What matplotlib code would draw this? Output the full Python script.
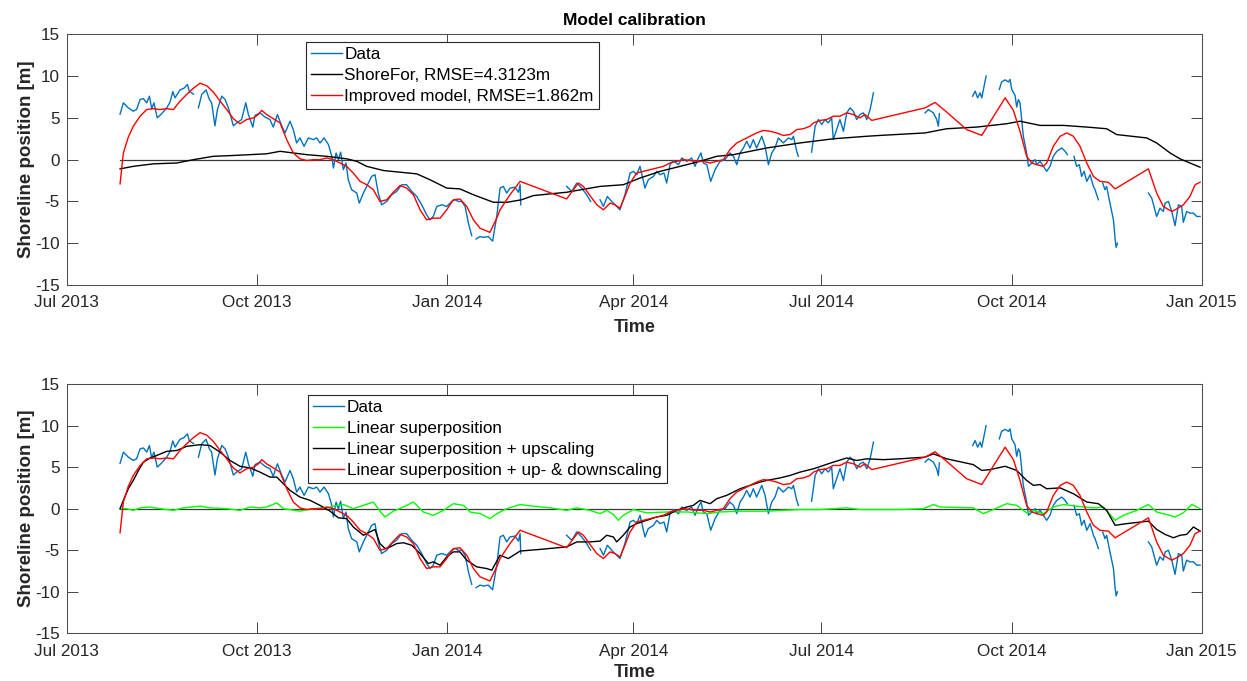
import numpy as np
import matplotlib
matplotlib.use("Agg")
import matplotlib.pyplot as plt
import matplotlib.dates as mdates

plt.rcParams["font.family"] = ["Liberation Sans", "DejaVu Sans"]
plt.rcParams["axes.unicode_minus"] = False

# Time axis: days since 1 July 2013
START = np.datetime64("2013-07-01T00:00")
X_START = "2013-07-01"
X_END = "2015-01-01"
X_TICKS = ["2013-07-01", "2013-10-01", "2014-01-01", "2014-04-01",
           "2014-07-01", "2014-10-01", "2015-01-01"]
Y_TICKS = [-15, -10, -5, 0, 5, 10, 15]

# Observed shoreline position (NaN marks survey gaps)
data_day = [25.8, 27.4, 29.8, 32.2, 33.8, 35.5, 37.1, 38.7, 40.0, 41.1, 42.2, 43.8,
            45.9, 48.4, 50.0, 51.3, 52.4, 54.8, 56.7, 58.4, 59.3, 61.3, 62.5,
            63.7, 65.3, 67.4, 69.0, 70.1, 71.7, 72.9, 75.0, 76.6, 78.2, 80.6, 82.2,
            84.6, 86.6, 87.9, 90.0, 91.1, 93.5, 95.9, 98.3, 99.9, 101.9, 104.0, 105.6,
            108.0, 109.6, 111.2, 112.8, 114.8, 116.9, 119.3, 120.9, 122.5, 124.5, 126.6,
            128.2, 129.0, 130.3, 131.4, 132.5, 133.8, 135.1, 136.2, 137.8, 140.3, 141.5,
            143.5, 145.1, 147.5, 149.1, 150.7, 152.3, 154.8, 157.2, 159.6, 162.0, 164.4,
            166.9, 169.3, 171.7, 174.1, 175.7, 177.3, 179.0, 181.4, 183.8, 186.2, 187.8,
            189.4, 191.1, 192.7, 194.3, 195.9, 197.0,
            198.0, 199.9, 201.5, 203.9, 206.0, 208.0, 209.6, 211.2, 212.8, 214.4, 216.8,
            218.5, 219.3, 219.6, 230.0,
            241.8, 244.3, 246.7, 249.1, 251.5, 253.4, 255.5,
            258.0, 259.6, 261.5, 263.6, 265.2, 267.6, 270.0, 272.5, 274.1, 275.7, 277.3,
            279.7, 281.3, 283.8, 285.4, 287.0, 288.9, 290.2, 291.8, 293.4, 295.9, 297.5,
            299.9, 302.3, 303.9, 305.5, 306.8, 307.9, 309.6, 311.5, 313.6, 316.0, 318.4,
            320.8, 322.5, 324.1, 325.7, 327.3, 328.9, 330.5, 332.1, 333.7, 336.2, 337.8,
            339.4, 341.0, 342.6, 344.2, 346.6, 349.1, 350.7, 351.5, 353.1, 353.9, 357.0,
            360.3, 362.0, 363.6, 365.2, 366.8, 368.4, 370.0, 370.8, 372.4, 374.0, 375.7,
            377.3, 378.9, 380.5, 382.1, 383.7, 385.3, 387.0, 388.6, 390.2, 402.0,
            415.2, 416.8, 419.2, 420.8, 421.6, 422.1, 430.0,
            438.2, 439.4, 440.6, 441.8, 442.6, 444.7, 448.0,
            451.1, 452.2, 453.9, 455.5, 456.3, 457.1, 458.7, 459.5, 460.3, 461.1, 461.9,
            462.7, 464.3, 465.2, 466.8, 468.4, 469.2, 470.8, 472.4, 474.0, 475.6, 477.2,
            478.9, 481.3, 482.9, 484.0, 485.5,
            487.2, 488.5, 489.8, 490.9, 492.1, 493.4, 495.0, 496.6, 497.4, 499.0, 500.0,
            501.1, 502.2, 503.0, 504.6, 506.3, 507.1, 507.6, 508.2, 515.0,
            523.2, 524.8, 527.2, 528.8, 530.4, 531.3, 532.9, 534.5, 536.1, 537.7, 539.3,
            540.1, 541.7, 543.3, 545.0, 546.6, 548.2]
data_val = [5.45, 6.8, 6.2, 5.8, 6.0, 7.2, 7.3, 6.8, 7.6, 6.1, 6.8, 5.0,
            5.5, 6.2, 6.9, 8.15, 7.4, 8.35, 8.55, 9.0, 8.15, 7.85, np.nan,
            6.2, 7.8, 8.35, 7.2, 6.8, 4.05, 6.0, 7.6, 7.2, 6.2, 4.05, 4.4,
            4.8, 6.8, 5.4, 3.9, 5.3, 5.6, 5.1, 4.8, 3.9, 5.4, 4.05, 3.2,
            4.6, 3.6, 2.0, 2.6, 1.6, 2.6, 2.4, 2.6, 2.0, 2.6, 1.8,
            0.4, -1.0, 0.8, 0.0, 0.9, -1.2, -0.4, -2.4, -3.6, -4.0, -5.2,
            -4.0, -3.2, -2.0, -1.8, -4.0, -5.4, -5.0, -4.2, -3.8, -3.0, -3.0,
            -3.8, -4.4, -5.4, -6.6, -7.2, -6.8, -5.6, -5.4, -5.6, -5.0, -4.8,
            -5.0, -5.0, -5.6, -7.6, -9.1, np.nan,
            -9.5, -9.2, -9.3, -9.2, -9.75, -6.8, -3.4, -3.2, -4.0, -3.4, -3.3,
            -3.9, -3.0, -5.4, np.nan,
            -3.2, -3.8, -2.8, -3.4, -4.2, -5.0, np.nan,
            -4.8, -5.6, -4.4, -5.0, -5.4, -6.0, -4.2, -1.6, -1.4, -1.8, -0.8,
            -3.4, -2.4, -2.0, -1.4, -1.8, -1.6, -2.8, -0.6, -0.1, -0.6, 0.2,
            -0.2, 0.2, -0.8, 0.2, 0.8, -0.4, -0.6, -2.6, -1.2, -0.2, 0.0,
            0.8, 0.4, -0.6, 0.8, 1.4, 2.2, 1.4, 2.4, 1.4, 2.8, 1.6,
            -0.6, 0.8, 1.4, 2.6, 2.0, 2.6, 2.4, 2.8, 1.0, 0.4, np.nan,
            0.9, 4.0, 4.8, 4.2, 4.8, 4.4, 5.0, 2.4, 3.6, 4.8, 3.4,
            5.6, 6.2, 5.8, 4.8, 5.4, 5.6, 4.8, 6.0, 8.0, np.nan,
            5.6, 6.0, 5.6, 4.8, 4.0, 5.5, np.nan,
            7.6, 8.2, 7.4, 8.0, 7.4, 10.0, np.nan,
            8.4, 9.3, 9.55, 9.3, 9.6, 8.4, 7.7, 6.3, 7.2, 6.8, 4.8,
            2.8, 0.8, -0.8, -0.4, 0.0, -0.6, -0.2, -0.8, -1.4, -0.8, 0.4,
            1.0, 1.4, 1.0, 0.6, np.nan,
            0.4, -0.8, -0.6, -2.0, -1.4, -2.6, -1.8, -3.2, -3.6, -4.8, np.nan,
            -2.8, -3.6, -3.2, -5.2, -7.2, -9.5, -10.5, -10.0, np.nan,
            -4.0, -4.6, -6.8, -5.8, -6.2, -5.2, -5.0, -6.2, -7.9, -5.4, -5.6,
            -7.5, -6.2, -6.4, -6.4, -6.8, -6.8]

# ShoreFor model
shorefor_day = [25.8, 32.2, 41.9, 53.2, 61.3, 70.9, 80.6, 88.7, 96.7, 103.2, 109.6,
                116.1, 125.7, 135.4, 140.3, 145.1, 153.2, 161.2, 169.3, 175.7, 183.8,
                190.2, 196.7, 206.4, 213.0, 220.0, 225.7, 241.8, 258.0, 269.2, 277.3,
                287.0, 296.7, 306.3, 314.4, 322.5, 338.6, 354.7, 370.8, 387.0, 393.4,
                415.2, 425.6, 440.2, 454.7, 461.1, 470.8, 482.1, 493.4, 503.0, 507.9,
                522.4, 527.2, 533.7, 538.5, 543.3, 548.2]
shorefor_val = [-1.1, -0.8, -0.5, -0.4, 0.0, 0.4, 0.5, 0.6, 0.7, 1.0, 0.8,
                0.6, 0.4, 0.1, -0.2, -0.8, -1.3, -1.5, -1.7, -2.4, -3.4,
                -3.5, -4.2, -5.1, -5.1, -4.8, -4.3, -3.9, -3.2, -3.0, -2.2,
                -1.4, -0.8, -0.2, 0.4, 0.6, 1.4, 2.0, 2.5, 2.8, 2.9,
                3.2, 3.7, 3.9, 4.3, 4.6, 4.1, 4.1, 3.9, 3.7, 3.0,
                2.6, 2.0, 0.8, 0.1, -0.4, -0.9]

# Improved model (linear superposition + up- & downscaling)
improved_day = [25.8, 27.4, 29.8, 32.2, 35.5, 38.7, 41.9, 45.1, 48.4, 51.6, 54.8,
                58.0, 61.3, 64.5, 67.7, 70.9, 74.2, 77.4, 80.6, 83.8, 87.0, 90.3,
                92.7, 94.3, 96.7, 100.0, 103.2, 106.4, 109.6, 112.8, 116.1, 119.3,
                122.5, 125.7, 129.0, 132.2, 135.4, 138.6, 141.9, 145.1, 148.3, 151.5,
                154.8, 158.0, 161.2, 164.4, 167.7, 170.9, 174.1, 177.3, 180.6, 183.8,
                187.0, 190.2, 193.5, 196.7, 199.9, 204.7, 208.0, 209.6, 214.4, 219.3,
                241.8, 245.1, 247.5, 249.9, 253.1, 256.4, 259.6, 262.8, 265.2, 267.6,
                270.0, 272.5, 275.7, 278.9, 282.1, 285.4, 288.6, 291.8, 295.0, 298.3,
                301.5, 304.7, 307.9, 311.2, 314.4, 317.6, 320.8, 324.1, 327.3, 330.5,
                333.7, 337.0, 340.2, 343.4, 346.6, 349.9, 353.1, 356.3, 359.5, 361.2,
                364.4, 367.6, 370.8, 374.0, 377.3, 380.5, 383.7, 386.1, 389.4,
                415.2, 420.0, 425.6, 435.3, 438.5, 442.6, 453.9, 457.9, 461.1, 464.3,
                466.8, 469.2, 472.4, 474.0, 477.2, 480.5, 483.7, 486.9, 490.1, 493.4,
                496.6, 499.8, 503.8, 507.1, 523.2, 527.2, 530.4, 534.5, 536.9, 540.1,
                543.3, 545.8, 548.2]
improved_val = [-2.9, 0.8, 2.7, 4.0, 5.2, 6.0, 6.1, 6.0, 6.1, 6.0, 7.0,
                7.8, 8.55, 9.15, 8.85, 8.1, 7.0, 6.0, 4.9, 4.3, 4.8, 5.0,
                5.4, 5.9, 5.4, 4.9, 4.4, 2.4, 0.8, 0.1, -0.1, 0.0,
                0.0, 0.2, 0.0, -0.4, -0.8, -1.6, -2.6, -3.0, -3.6, -5.0,
                -4.8, -3.9, -3.1, -3.4, -4.2, -6.0, -7.2, -7.0, -7.0, -6.0,
                -4.8, -4.7, -5.6, -7.2, -8.2, -8.7, -7.0, -6.0, -4.2, -2.6,
                -4.7, -3.6, -2.8, -3.2, -4.3, -5.4, -6.0, -5.2, -5.4, -5.8,
                -4.4, -2.8, -1.6, -1.4, -1.2, -1.0, -0.8, -0.4, -0.2, 0.0,
                -0.1, -0.2, -0.2, -0.4, -0.2, 0.0, 1.2, 2.0, 2.4, 2.8,
                3.2, 3.5, 3.4, 3.2, 2.9, 3.0, 3.6, 3.7, 4.0, 4.4,
                4.7, 4.8, 5.2, 5.2, 5.6, 5.4, 5.0, 5.4, 4.7,
                6.2, 6.85, 5.7, 3.6, 3.3, 2.9, 7.4, 5.9, 3.4, 0.4,
                -0.4, -0.6, -0.8, -0.4, 1.6, 2.8, 3.2, 2.8, 1.6, -0.4,
                -2.0, -2.6, -2.7, -3.5, -1.1, -4.0, -5.6, -6.2, -5.9, -5.4,
                -4.4, -3.0, -2.7]

# Linear superposition
linear_day = [25.8, 29.0, 32.2, 35.5, 40.3, 45.1, 51.6, 56.4, 64.5, 69.3, 77.4,
              83.8, 88.7, 93.5, 96.7, 101.6, 104.8, 112.8, 119.3, 125.7, 129.0,
              133.8, 138.6, 143.5, 148.3, 151.5, 154.0, 158.0, 162.8, 167.7, 172.5,
              177.3, 182.2, 187.0, 191.9, 195.1, 199.9, 204.7, 208.0, 212.8, 219.3,
              225.7, 233.8, 241.8, 246.7, 253.1, 258.0, 261.2, 264.4, 266.8, 269.2,
              274.1, 280.5, 290.2, 299.9, 309.6, 316.0, 325.7, 338.6, 354.7, 364.4,
              377.3, 383.7, 403.1, 414.4, 419.2, 422.4, 438.5, 443.4, 448.2, 454.7,
              459.5, 464.3, 467.6, 472.4, 477.2, 482.1, 488.5, 496.6, 501.4, 507.1,
              511.1, 517.5, 523.2, 527.2, 532.1, 536.1, 540.1, 544.2, 548.2]
linear_val = [0.0, 0.0, -0.2, 0.1, 0.2, 0.0, -0.2, 0.1, 0.3, 0.1, 0.0,
              -0.2, 0.2, 0.1, 0.2, 0.7, 0.0, -0.3, 0.0, 0.1, 0.3,
              0.5, 0.0, 0.4, 0.8, -0.3, -1.0, -0.3, 0.2, 0.8, -0.4,
              -0.8, -0.2, 0.6, 0.4, -0.4, -0.6, -1.2, -0.6, 0.0, 0.5,
              0.3, 0.1, -0.2, 0.1, -0.2, -0.6, -0.2, -0.7, -1.4, -0.8,
              -0.1, -0.5, -0.4, -0.4, -0.6, -0.4, -0.3, -0.3, -0.1, -0.1,
              0.1, -0.1, -0.1, 0.0, 0.5, 0.2, 0.1, -0.6, -0.1, 0.6,
              0.4, -0.5, -0.2, -0.6, 0.2, 0.5, 0.3, 0.1, 0.2, -1.4,
              -0.8, -0.2, 0.5, -0.4, -0.7, -1.0, -0.5, 0.5, 0.0]

# Linear superposition + upscaling
upscaled_day = [25.8, 27.4, 29.8, 32.2, 34.7, 37.1, 40.3, 43.5, 48.4, 53.2, 58.0,
                64.5, 69.3, 74.2, 79.0, 83.8, 88.7, 93.5, 98.3, 101.6, 104.8, 108.0,
                112.8, 117.7, 122.5, 127.4, 131.4, 135.4, 138.6, 143.5, 146.7, 149.1,
                151.5, 154.0, 156.4, 159.6, 162.8, 166.9, 170.9, 174.9, 177.3, 180.6,
                183.8, 187.0, 190.2, 193.5, 198.3, 203.1, 205.6, 209.6, 213.6, 219.3,
                228.9, 241.8, 246.7, 253.1, 258.0, 261.2, 264.4, 266.0, 269.2, 272.5,
                275.7, 280.5, 285.4, 290.2, 295.0, 299.9, 303.1, 306.3, 311.2, 314.4,
                319.2, 322.5, 325.7, 330.5, 335.4, 338.6, 345.0, 349.9, 354.7, 361.2,
                366.0, 370.8, 377.3, 382.1, 387.0, 395.0, 403.1, 415.2, 419.2, 425.6,
                438.5, 442.6, 446.6, 453.9, 459.5, 464.3, 467.6, 470.8, 474.0, 480.5,
                486.9, 493.4, 499.0, 503.0, 507.1, 512.7, 523.2, 527.2, 531.3, 535.3,
                538.5, 541.7, 545.0, 548.2]
upscaled_val = [0.0, 1.0, 2.4, 3.4, 4.6, 5.6, 6.1, 6.4, 6.9, 7.0, 7.5,
                7.7, 7.6, 6.8, 5.8, 5.1, 4.9, 4.4, 3.8, 3.8, 3.0, 2.2,
                1.4, 1.0, 0.4, -0.3, -1.1, -1.2, -2.2, -3.2, -2.8, -2.5,
                -4.2, -4.8, -4.6, -4.2, -4.1, -4.4, -5.4, -6.6, -6.4, -6.8,
                -5.8, -5.2, -5.2, -6.2, -7.0, -7.2, -7.4, -5.6, -6.0, -5.1,
                -4.9, -4.6, -4.0, -4.0, -3.9, -3.2, -3.4, -4.0, -3.2, -2.2,
                -1.8, -1.4, -1.0, -0.8, -0.2, 0.2, 0.4, 1.0, 0.6, 1.2,
                1.6, 2.0, 2.4, 2.8, 3.2, 3.4, 3.7, 4.0, 4.4, 4.8,
                5.2, 5.6, 6.1, 5.8, 6.0, 5.9, 6.0, 6.2, 6.6, 6.0,
                5.3, 4.6, 4.7, 5.1, 4.6, 3.4, 2.8, 2.9, 2.4, 2.5,
                1.8, 0.8, 0.6, -0.2, -2.0, -1.8, -1.5, -2.5, -3.1, -3.5,
                -3.2, -3.1, -2.2, -2.7]

BLUE = "#0072BD"
AX_GREY = "#262626"


def to_dates(days):
    d = np.asarray(days, dtype=float)
    return START + np.round(d * 24 * 60).astype("timedelta64[m]")


def style_axes(ax, xlabel_pad):
    ax.set_xlim(np.datetime64(X_START), np.datetime64(X_END))
    ax.set_ylim(-15, 15)
    ax.set_yticks(Y_TICKS)
    ax.set_xticks([np.datetime64(t) for t in X_TICKS])
    ax.xaxis.set_major_formatter(mdates.DateFormatter("%b %Y"))
    ax.tick_params(direction="in", length=7.9, width=0.6, colors=AX_GREY,
                   labelsize=12.3, top=True, right=True)
    ax.tick_params(axis="x", pad=7.5)
    ax.tick_params(axis="y", pad=5)
    for sp in ax.spines.values():
        sp.set_color("#4d4d4d")
        sp.set_linewidth(0.75)
    ax.set_xlabel("Time", fontsize=13, fontweight="bold", color=AX_GREY,
                  labelpad=xlabel_pad)
    ax.set_ylabel("Shoreline position [m]", fontsize=13.5, fontweight="bold",
                  color=AX_GREY, labelpad=0)


def zero_line(ax):
    t = to_dates([data_day[0], data_day[-1]])
    ax.plot(t, [0, 0], color="#3a3a3a", lw=0.9, zorder=1)


fig = plt.figure(figsize=(12.47, 6.81), dpi=100)
ax1 = fig.add_axes([0.0535, 0.5815, 0.9102, 0.3681])
ax2 = fig.add_axes([0.0535, 0.0700, 0.9102, 0.3661])

t_data = to_dates(data_day)

# Calibration comparison
zero_line(ax1)
h1, = ax1.plot(t_data, data_val, color=BLUE, lw=1.0, label="Data")
h2, = ax1.plot(to_dates(shorefor_day), shorefor_val, color="k", lw=1.0,
               label="ShoreFor, RMSE=4.3123m")
h3, = ax1.plot(to_dates(improved_day), improved_val, color="r", lw=1.0,
               label="Improved model, RMSE=1.862m")
style_axes(ax1, 6)
ax1.set_title("Model calibration", fontsize=12.5, fontweight="bold", pad=6.5)

# Model variants
zero_line(ax2)
g1, = ax2.plot(t_data, data_val, color=BLUE, lw=1.0, label="Data")
g2, = ax2.plot(to_dates(linear_day), linear_val, color="#00ff00", lw=1.0,
               label="Linear superposition")
g3, = ax2.plot(to_dates(upscaled_day), upscaled_val, color="k", lw=1.0,
               label="Linear superposition + upscaling")
g4, = ax2.plot(to_dates(improved_day), improved_val, color="r", lw=1.0,
               label="Linear superposition + up- & downscaling")
style_axes(ax2, 3.5)

legend_kw = dict(loc="upper left", fontsize=12.3, frameon=True, fancybox=False,
                 edgecolor="#262626", framealpha=1, borderaxespad=0,
                 handlelength=1.8, handletextpad=0.15, labelspacing=0.34,
                 borderpad=0.3)
lg1 = ax1.legend(handles=[h1, h2, h3], bbox_to_anchor=(0.2108, 0.968), **legend_kw)
lg2 = ax2.legend(handles=[g1, g2, g3, g4], bbox_to_anchor=(0.2129, 0.956), **legend_kw)
for lg in (lg1, lg2):
    lg.get_frame().set_linewidth(0.8)

fig.savefig("out.png", dpi=100)
